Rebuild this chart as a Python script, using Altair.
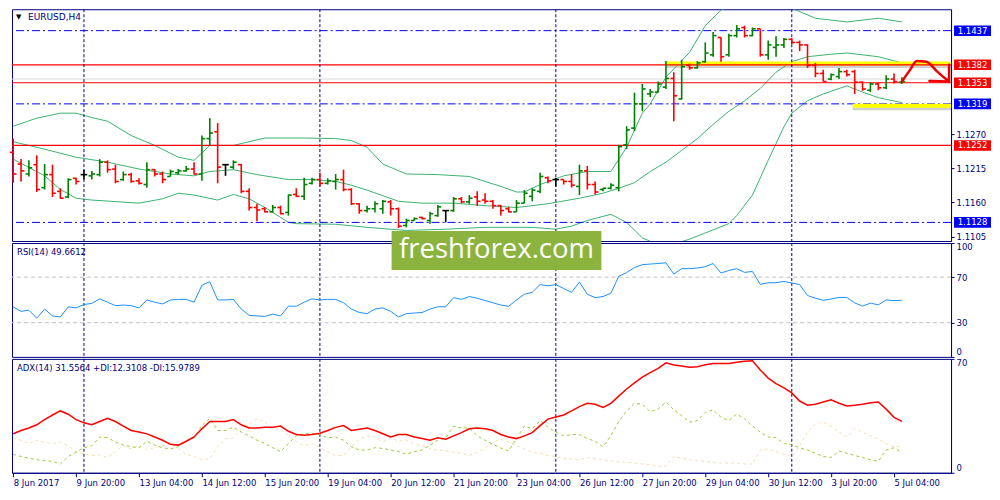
import json
import altair as alt
import pandas as pd

# ---------------- data ----------------
OPEN = [1.1241, 1.1222, 1.1206, 1.1221, 1.1184, 1.1205, 1.1178, 1.1169, 1.1199, 1.1205,
        1.1203, 1.1205, 1.1225, 1.1214, 1.1197, 1.1205, 1.1195, 1.1189, 1.1213, 1.1206,
        1.1202, 1.1208, 1.1211, 1.1214, 1.1206, 1.1263, 1.1274, 1.1221, 1.1217, 1.1221,
        1.1178, 1.1152, 1.1150, 1.1145, 1.1152, 1.1144, 1.1173, 1.1170, 1.1191, 1.1197,
        1.1191, 1.1194, 1.1197, 1.1181, 1.1158, 1.1147, 1.1150, 1.1150, 1.1161, 1.1150,
        1.1123, 1.1131, 1.1136, 1.1131, 1.1139, 1.1147, 1.1147, 1.1166, 1.1161, 1.1169,
        1.1164, 1.1162, 1.1155, 1.1150, 1.1145, 1.1159, 1.1170, 1.1178, 1.1200, 1.1197,
        1.1197, 1.1194, 1.1186, 1.1211, 1.1189, 1.1181, 1.1183, 1.1184, 1.1253, 1.1280,
        1.1319, 1.1335, 1.1338, 1.1346, 1.1360, 1.1327, 1.1381, 1.1377, 1.1387, 1.1398,
        1.1426, 1.1398, 1.1429, 1.1442, 1.1429, 1.1440, 1.1398, 1.1410, 1.1414, 1.1423,
        1.1418, 1.1414, 1.1381, 1.1368, 1.1359, 1.1363, 1.1371, 1.1371, 1.1354, 1.1341,
        1.1351, 1.1345, 1.1359, 1.1354]
HIGH = [1.1263, 1.1230, 1.1228, 1.1236, 1.1222, 1.1221, 1.1183, 1.1199, 1.1200, 1.1213,
        1.1211, 1.1230, 1.1228, 1.1221, 1.1210, 1.1208, 1.1199, 1.1225, 1.1214, 1.1210,
        1.1213, 1.1214, 1.1219, 1.1225, 1.1268, 1.1296, 1.1288, 1.1222, 1.1228, 1.1222,
        1.1183, 1.1158, 1.1153, 1.1156, 1.1155, 1.1173, 1.1183, 1.1200, 1.1200, 1.1208,
        1.1199, 1.1206, 1.1213, 1.1183, 1.1159, 1.1155, 1.1162, 1.1164, 1.1164, 1.1152,
        1.1134, 1.1136, 1.1137, 1.1145, 1.1156, 1.1147, 1.1169, 1.1169, 1.1172, 1.1178,
        1.1175, 1.1164, 1.1156, 1.1153, 1.1164, 1.1180, 1.1183, 1.1208, 1.1202, 1.1200,
        1.1197, 1.1206, 1.1221, 1.1219, 1.1194, 1.1184, 1.1191, 1.1253, 1.1283, 1.1337,
        1.1351, 1.1343, 1.1355, 1.1388, 1.1370, 1.1390, 1.1384, 1.1388, 1.1418, 1.1435,
        1.1426, 1.1432, 1.1446, 1.1445, 1.1442, 1.1440, 1.1421, 1.1428, 1.1425, 1.1425,
        1.1421, 1.1415, 1.1385, 1.1374, 1.1368, 1.1377, 1.1374, 1.1374, 1.1355, 1.1354,
        1.1354, 1.1365, 1.1368, 1.1362]
LOW = [1.1192, 1.1194, 1.1202, 1.1177, 1.1181, 1.1169, 1.1166, 1.1167, 1.1189, 1.1197,
       1.1197, 1.1202, 1.1208, 1.1191, 1.1195, 1.1192, 1.1189, 1.1184, 1.1202, 1.1191,
       1.1202, 1.1205, 1.1210, 1.1205, 1.1195, 1.1252, 1.1191, 1.1203, 1.1214, 1.1175,
       1.1147, 1.1130, 1.1144, 1.1144, 1.1141, 1.1139, 1.1169, 1.1164, 1.1189, 1.1186,
       1.1189, 1.1181, 1.1178, 1.1156, 1.1142, 1.1144, 1.1144, 1.1142, 1.1139, 1.1119,
       1.1120, 1.1131, 1.1133, 1.1126, 1.1137, 1.1128, 1.1145, 1.1159, 1.1158, 1.1155,
       1.1158, 1.1150, 1.1139, 1.1144, 1.1145, 1.1159, 1.1162, 1.1175, 1.1191, 1.1186,
       1.1189, 1.1184, 1.1172, 1.1181, 1.1173, 1.1178, 1.1181, 1.1178, 1.1246, 1.1275,
       1.1307, 1.1330, 1.1337, 1.1343, 1.1291, 1.1326, 1.1374, 1.1376, 1.1385, 1.1395,
       1.1387, 1.1395, 1.1426, 1.1426, 1.1428, 1.1395, 1.1390, 1.1395, 1.1409, 1.1415,
       1.1404, 1.1377, 1.1362, 1.1355, 1.1357, 1.1359, 1.1363, 1.1335, 1.1340, 1.1338,
       1.1341, 1.1343, 1.1352, 1.1351]
CLOSE = [1.1206, 1.1211, 1.1216, 1.1181, 1.1205, 1.1175, 1.1167, 1.1197, 1.1194, 1.1205,
         1.1206, 1.1225, 1.1213, 1.1194, 1.1205, 1.1194, 1.1191, 1.1213, 1.1206, 1.1197,
         1.1210, 1.1211, 1.1214, 1.1206, 1.1263, 1.1272, 1.1217, 1.1221, 1.1225, 1.1178,
         1.1152, 1.1148, 1.1145, 1.1152, 1.1142, 1.1172, 1.1170, 1.1189, 1.1197, 1.1191,
         1.1195, 1.1197, 1.1181, 1.1158, 1.1147, 1.1150, 1.1158, 1.1162, 1.1150, 1.1122,
         1.1131, 1.1134, 1.1134, 1.1142, 1.1153, 1.1147, 1.1166, 1.1161, 1.1167, 1.1162,
         1.1162, 1.1155, 1.1147, 1.1145, 1.1159, 1.1175, 1.1180, 1.1202, 1.1195, 1.1197,
         1.1194, 1.1188, 1.1211, 1.1189, 1.1177, 1.1183, 1.1188, 1.1250, 1.1277, 1.1319,
         1.1343, 1.1338, 1.1351, 1.1360, 1.1332, 1.1379, 1.1377, 1.1385, 1.1401, 1.1429,
         1.1395, 1.1429, 1.1440, 1.1429, 1.1440, 1.1398, 1.1414, 1.1414, 1.1423, 1.1418,
         1.1414, 1.1381, 1.1368, 1.1355, 1.1366, 1.1371, 1.1366, 1.1354, 1.1343, 1.1351,
         1.1345, 1.1359, 1.1355, 1.1355]

BB_UPPER_BAR = [0, 3, 6, 8, 10, 12, 15, 18, 21, 23, 25, 28, 32, 37, 41, 43, 45, 47, 50, 54,
                58, 62, 64, 65, 67, 70, 73, 76, 78, 80, 81, 83, 86, 88, 90, 92, 94, 96, 98, 99,
                102, 106, 110, 113]
BB_UPPER = [1.1283, 1.1296, 1.1304, 1.1304, 1.1297, 1.1291, 1.1268, 1.1252, 1.1233, 1.1228,
            1.1252, 1.1252, 1.1264, 1.1264, 1.1263, 1.1260, 1.1249, 1.1222, 1.1206, 1.1205,
            1.1202, 1.1186, 1.1177, 1.1177, 1.1189, 1.1203, 1.1210, 1.1210, 1.1249, 1.1304,
            1.1319, 1.1362, 1.1402, 1.1445, 1.1470, 1.1482, 1.1489, 1.1486, 1.1479, 1.1473,
            1.1457, 1.1451, 1.1457, 1.1451]
BB_MID_BAR = [0, 4, 8, 12, 16, 20, 23, 25, 28, 31, 35, 38, 41, 43, 45, 49, 52, 56, 60, 64,
              68, 72, 75, 77, 79, 81, 83, 85, 87, 89, 91, 93, 95, 97, 99, 101, 104, 106, 110, 113]
BB_MID = [1.1258, 1.1246, 1.1233, 1.1225, 1.1214, 1.1206, 1.1203, 1.1210, 1.1213, 1.1205,
          1.1197, 1.1197, 1.1194, 1.1188, 1.1180, 1.1162, 1.1159, 1.1159, 1.1155, 1.1152,
          1.1158, 1.1167, 1.1175, 1.1183, 1.1192, 1.1210, 1.1225, 1.1244, 1.1263, 1.1286,
          1.1307, 1.1324, 1.1344, 1.1370, 1.1387, 1.1395, 1.1399, 1.1401, 1.1395, 1.1385]
BB_LOWER_BAR = [0, 4, 6, 8, 10, 16, 19, 21, 23, 26, 28, 30, 32, 35, 36, 41, 45, 50, 55, 60,
                66, 69, 71, 73, 76, 78, 80, 82, 84, 86, 88, 91, 92, 94, 96, 98, 99, 101, 103, 106,
                108, 110, 113]
BB_LOWER = [1.1230, 1.1203, 1.1181, 1.1167, 1.1164, 1.1159, 1.1166, 1.1175, 1.1172, 1.1164,
            1.1173, 1.1166, 1.1152, 1.1128, 1.1126, 1.1125, 1.1120, 1.1115, 1.1117, 1.1120,
            1.1120, 1.1117, 1.1122, 1.1131, 1.1141, 1.1128, 1.1103, 1.1092, 1.1093, 1.1101,
            1.1111, 1.1126, 1.1139, 1.1172, 1.1228, 1.1282, 1.1304, 1.1324, 1.1335, 1.1348,
            1.1338, 1.1329, 1.1321]

RSI = [44, 40, 41, 34, 42, 36, 35, 44, 43, 46,
       47, 51, 48, 45, 45.5, 45, 43, 50, 48, 46.5,
       50, 50.5, 50.5, 48, 63, 66, 50, 50, 50.5, 42,
       36.5, 36, 35.5, 37.5, 36, 44.5, 44.5, 48, 51, 50,
       50.5, 50.5, 47.5, 42, 39, 38, 42, 43, 40, 35,
       38, 38.5, 39, 42, 44, 44, 52, 50.5, 53, 51.5,
       49.5, 47.5, 45.5, 44.5, 50, 55, 56.7, 63.5, 62.4, 63.5,
       60, 56.7, 65.7, 55, 52, 53, 55.9, 70.8, 74, 78.4,
       81, 81.5, 82, 82.6, 72.7, 77.5, 77.5, 78, 79.2, 82,
       73.6, 75.9, 77.5, 74.2, 75, 63.7, 65.1, 65.1, 66.2, 64.9,
       63.5, 53.9, 51.6, 49.7, 50.8, 52.2, 52.2, 47.4, 44.6, 47.2,
       45.7, 50, 49.4, 49.7]
ADX = [24, 26, 27.5, 29.5, 32.7, 35.5, 38, 36, 32.7, 30.7,
       29.5, 31.5, 33.5, 31.5, 28.7, 26, 25, 23.9, 22, 20,
       17.5, 17, 19.4, 22, 27, 31.5, 31.5, 31.5, 32.7, 29.5,
       27.5, 27.5, 28, 28, 28.7, 25.5, 23.5, 23, 23.5, 24.3,
       26, 27.9, 29, 26, 26.7, 27.5, 26, 24, 22, 23.5,
       23.5, 22, 21, 20, 21.5, 20.6, 22.7, 24.7, 27, 27.5,
       27, 26, 23.5, 22, 21, 22.7, 24.7, 29, 33, 34.3,
       35.5, 38, 40.7, 42.7, 42.1, 40.1, 42.7, 47.1, 51.5, 55.2,
       58.8, 61.6, 64.2, 67.6, 66.2, 65.6, 64.8, 65.2, 66.4, 67.2,
       67.2, 67.2, 68, 68.6, 68.8, 63.2, 58.2, 54.8, 52.2, 49.1,
       44.1, 41.5, 42.1, 43.5, 44.8, 42.7, 41.1, 41.5, 42.1, 43.1,
       43.5, 39.1, 34.1, 31.6]
PLUS_DI = [11.4, 10, 9, 8, 7.4, 7, 5.4, 10, 12.6, 15.4,
           16.6, 22, 21.5, 19, 17, 16, 15.4, 19.4, 17, 15.4,
           14.6, 16, 19.4, 21.5, 29, 33.5, 26, 26, 28, 25,
           22.7, 20, 18, 15.4, 13, 18, 22.7, 24, 24, 23.5,
           21.5, 22, 20, 16, 14, 14, 15.4, 15, 14, 13,
           11.4, 13, 14, 17, 20, 21.5, 28.7, 27.5, 27.5, 22.7,
           20, 17.5, 15.2, 13.4, 21, 28.7, 27, 32.1, 28, 25,
           22.7, 23.5, 23.5, 21, 19.4, 16, 22.7, 31.5, 38, 42.7,
           42.1, 37.5, 39.1, 43.5, 38.7, 35.1, 31.1, 32.1, 37.1, 38.7,
           34.1, 32.1, 36.1, 33.1, 28.7, 25, 22, 21.5, 18, 17,
           15.4, 14, 12, 10, 9.4, 13.4, 12, 10.6, 9.4, 8,
           7, 14, 15.4, 12.3]
MINUS_DI = [21.5, 20, 18, 20, 18.7, 18, 18.7, 16.6, 13, 11.4,
            10.6, 11, 9.4, 13, 16.6, 14.6, 17, 14, 15.4, 16.6,
            18, 15, 11.4, 10, 8, 8.6, 16, 21, 21.5, 27,
            29.5, 33.1, 31.1, 27, 26.7, 23, 19, 16.6, 18, 15.4,
            13, 10.6, 10.6, 16, 20.6, 22.7, 22, 19, 21.5, 19.4,
            20, 18, 16.6, 15, 14, 13.4, 12.6, 12, 10.6, 12.6,
            15, 18.7, 20.8, 18.7, 16.6, 14.6, 12.6, 12, 10.6, 10,
            8.6, 8.6, 8, 9.4, 8.6, 8, 7.4, 6.6, 6.6, 6,
            5.4, 5, 4, 4, 10, 9, 8, 7.4, 7, 6.6,
            6, 6, 6, 5.4, 5.4, 14, 14.6, 13, 11.4, 10,
            16.6, 25, 30.1, 31.1, 28.7, 25, 22, 27, 25, 22.7,
            20.6, 18, 16, 16]

TIME_LABELS = ["8 Jun 2017", "9 Jun 20:00", "13 Jun 04:00", "14 Jun 12:00", "15 Jun 20:00",
               "19 Jun 04:00", "20 Jun 12:00", "21 Jun 20:00", "23 Jun 04:00", "26 Jun 12:00",
               "27 Jun 20:00", "29 Jun 04:00", "30 Jun 12:00", "3 Jul 20:00", "5 Jul 04:00"]
TIME_TICK_BARS = [0, 8, 16, 24, 32, 40, 48, 56, 64, 72, 80, 88, 96, 104, 112]
WEEK_SEPARATORS = [9, 39, 69, 99]

BLUE_LEVELS = [1.1437, 1.1319, 1.1128]
RED_LEVELS = [1.1382, 1.1353, 1.1252]
ASK_LEVEL = [1.1359]
ZONE_START = [83, 106.75]
ZONE_END = [119.25, 119.25]
ZONE_PRICE = [1.1384, 1.1316]
PRICE_TICKS = [1.1105, 1.1160, 1.1215, 1.1270]
TAG_PRICES = [1.1437, 1.1382, 1.1353, 1.1319, 1.1252, 1.1128]
TAG_COLORS = ["#0000ff", "#ff0000", "#ff0000", "#0000ff", "#ff0000", "#0000ff"]

ARROW_BAR = [113, 114, 114.9, 116.1, 117.5, 118.6, 119]
ARROW_PRICE = [1.1355, 1.1373, 1.1388, 1.1387, 1.1371, 1.1359, 1.1355]
HEAD_BAR = [116.5, 119, 119]
HEAD_PRICE = [1.1356, 1.1355, 1.1382]

RSI_LEVELS = [30, 70]
RSI_TICKS = [0, 30, 70, 100]
ADX_TICKS = [0, 70]

# ---------------- layout / style ----------------
W = 940
H_MAIN, H_RSI, H_ADX = 232, 114, 114
NAVY = "#000080"
FONT = "DejaVu Sans"
N = len(CLOSE)

X_SCALE = alt.Scale(domain=[-0.15, 119.25], nice=False, zero=False)
P_SCALE = alt.Scale(domain=[1.1098, 1.14715], nice=False, zero=False)
R_SCALE = alt.Scale(domain=[0, 100], nice=False, zero=False)
A_SCALE = alt.Scale(domain=[0, 70], nice=False, zero=False)

PRICE_AXIS = alt.Axis(orient="right", values=PRICE_TICKS, format=".4f", tickSize=3,
                      labelPadding=2, title=None, grid=False)
RSI_AXIS = alt.Axis(orient="right", values=RSI_TICKS, tickSize=3, labelPadding=2,
                    labelFlush=True, title=None, grid=False)
ADX_AXIS = alt.Axis(orient="right", values=ADX_TICKS, tickSize=3, labelPadding=2,
                    labelFlush=True, title=None, grid=False)
label_expr = json.dumps(TIME_LABELS) + "[round(datum.value / 8)]"
TIME_AXIS = alt.Axis(values=TIME_TICK_BARS, labelExpr=label_expr, labelAlign="left",
                     labelFlush=False, labelOverlap=False, tickSize=4, labelPadding=2,
                     title=None, grid=False)


def px(field, axis=None):
    if axis is None:
        return alt.X(field, type="quantitative", scale=X_SCALE, axis=None)
    return alt.X(field, type="quantitative", scale=X_SCALE, axis=axis)


def py(field):
    return alt.Y(field, type="quantitative", scale=P_SCALE, axis=PRICE_AXIS)


def ry(field):
    return alt.Y(field, type="quantitative", scale=R_SCALE, axis=RSI_AXIS)


def ay(field):
    return alt.Y(field, type="quantitative", scale=A_SCALE, axis=ADX_AXIS)


def separators(axis=None):
    return alt.Chart(pd.DataFrame({"bar": WEEK_SEPARATORS})).mark_rule(
        color=NAVY, strokeWidth=1, strokeDash=[3, 2]).encode(x=px("bar", axis))


def label(text, x, y, size=8.5, color=NAVY, font=FONT, align="left"):
    return alt.Chart(pd.DataFrame({"t": [text]})).mark_text(
        align=align, baseline="middle", fontSize=size, font=font, color=color
    ).encode(x=alt.value(x), y=alt.value(y), text="t:N")


# ---------------- main price panel ----------------
bars_df = pd.DataFrame({"bar": list(range(N)), "open": OPEN, "high": HIGH,
                        "low": LOW, "close": CLOSE})
bar_base = alt.Chart(bars_df).transform_calculate(
    dir="datum.close > datum.open ? 'up' : (datum.close < datum.open ? 'down' : 'flat')",
    xl="datum.bar - 0.42", xr="datum.bar + 0.42")
bar_color = alt.Color("dir:N", scale=alt.Scale(domain=["up", "down", "flat"],
                                               range=["#008000", "#ff0000", "#000000"]),
                      legend=None)
wicks = bar_base.mark_rule(strokeWidth=1.6).encode(x=px("bar"), y=py("low"), y2="high:Q", color=bar_color)
opens = bar_base.mark_rule(strokeWidth=1.6).encode(x=px("xl"), x2="bar:Q", y=py("open"), color=bar_color)
closes = bar_base.mark_rule(strokeWidth=1.6).encode(x=px("bar"), x2="xr:Q", y=py("close"), color=bar_color)

bb_df = pd.concat([
    pd.DataFrame({"bar": BB_UPPER_BAR, "price": BB_UPPER, "band": "upper"}),
    pd.DataFrame({"bar": BB_MID_BAR, "price": BB_MID, "band": "mid"}),
    pd.DataFrame({"bar": BB_LOWER_BAR, "price": BB_LOWER, "band": "lower"}),
], ignore_index=True)
bands = alt.Chart(bb_df).mark_line(color="#3cb371", strokeWidth=1, clip=True).encode(
    x=px("bar"), y=py("price"), detail="band:N", order="bar:Q")

ask = alt.Chart(pd.DataFrame({"price": ASK_LEVEL})).mark_rule(color="#d8d8d8", strokeWidth=1).encode(y=py("price"))
blue = alt.Chart(pd.DataFrame({"price": BLUE_LEVELS})).mark_rule(
    color="#0000ff", strokeWidth=1, strokeDash=[8, 3, 2, 3]).encode(y=py("price"))
red = alt.Chart(pd.DataFrame({"price": RED_LEVELS})).mark_rule(color="#ff0000", strokeWidth=1.2).encode(y=py("price"))
zones_df = pd.DataFrame({"x0": ZONE_START, "x1": ZONE_END, "price": ZONE_PRICE})
zone_shadow = alt.Chart(zones_df).transform_calculate(ps="datum.price - 0.0004").mark_rule(
    color="#8a8a8a", strokeWidth=4, opacity=0.4).encode(x=px("x0"), x2="x1:Q", y=py("ps"))
zone = alt.Chart(zones_df).mark_rule(color="#ffff00", strokeWidth=4).encode(
    x=px("x0"), x2="x1:Q", y=py("price"))

arrow = alt.Chart(pd.DataFrame({"bar": ARROW_BAR, "price": ARROW_PRICE,
                                "k": list(range(len(ARROW_BAR)))})).mark_line(
    color="#ee0000", strokeWidth=2.5, strokeCap="round", strokeJoin="round",
    interpolate="monotone", clip=False).encode(x=px("bar"), y=py("price"), order="k:Q")
head = alt.Chart(pd.DataFrame({"bar": HEAD_BAR, "price": HEAD_PRICE,
                               "k": list(range(len(HEAD_BAR)))})).mark_line(
    color="#ee0000", strokeWidth=2.5, strokeCap="round", strokeJoin="round").encode(
    x=px("bar"), y=py("price"), order="k:Q")

tags_df = pd.DataFrame({"price": TAG_PRICES, "color": TAG_COLORS})
tag_boxes = alt.Chart(tags_df).transform_calculate(
    hi="datum.price + 0.00085", lo="datum.price - 0.00085").mark_rect().encode(
    x=alt.value(W + 3), x2=alt.value(W + 40), y=py("hi"), y2="lo:Q",
    color=alt.Color("color:N", scale=None))
tag_text = alt.Chart(tags_df).mark_text(color="white", fontSize=8.5, font=FONT,
                                         align="center", baseline="middle").encode(
    x=alt.value(W + 21.5), y=py("price"), text=alt.Text("price:Q", format=".4f"))

main = alt.layer(
    ask, bands, blue, zone_shadow, zone, red, separators(),
    wicks, opens, closes, arrow, head, tag_boxes, tag_text,
    label("\u25BC", 4, 8, size=7, color="#000000"),
    label("EURUSD,H4", 16, 8, size=9),
).properties(width=W, height=H_MAIN)

# ---------------- RSI panel ----------------
rsi_df = pd.DataFrame({"bar": list(range(N)), "rsi": RSI})
rsi_levels = alt.Chart(pd.DataFrame({"lvl": RSI_LEVELS})).mark_rule(
    color="#c0c0c0", strokeDash=[4, 3]).encode(y=ry("lvl"))
rsi_line = alt.Chart(rsi_df).mark_line(color="#1e90ff", strokeWidth=1).encode(x=px("bar"), y=ry("rsi"))
one = pd.DataFrame({"t": ["freshforex.com"]})
wm_box = alt.Chart(one).mark_rect(color="#8cb33e").encode(
    x=alt.value(380), x2=alt.value(590), y=alt.value(-12), y2=alt.value(27))
wm_text = alt.Chart(one).mark_text(color="white", font="Open Sans", fontSize=27.5,
                                   align="center", baseline="middle").encode(
    x=alt.value(485), y=alt.value(7), text="t:N")
rsi = alt.layer(
    rsi_levels, separators(), rsi_line, wm_box, wm_text,
    label("RSI(14) 49.6612", 5, 9),
).properties(width=W, height=H_RSI)

# ---------------- ADX panel ----------------
adx_df = pd.DataFrame({"bar": list(range(N)), "adx": ADX, "pdi": PLUS_DI, "mdi": MINUS_DI})
mdi_line = alt.Chart(adx_df).mark_line(color="#f5deb3", strokeWidth=1, strokeDash=[3, 3]).encode(
    x=px("bar", TIME_AXIS), y=ay("mdi"))
pdi_line = alt.Chart(adx_df).mark_line(color="#9acd32", strokeWidth=1, strokeDash=[3, 3]).encode(
    x=px("bar", TIME_AXIS), y=ay("pdi"))
adx_line = alt.Chart(adx_df).mark_line(color="#ff0000", strokeWidth=1.5).encode(
    x=px("bar", TIME_AXIS), y=ay("adx"))
adx = alt.layer(
    separators(TIME_AXIS), mdi_line, pdi_line, adx_line,
    label("ADX(14) 31.5564 +DI:12.3108 -DI:15.9789", 5, 9),
).properties(width=W, height=H_ADX)

chart = alt.vconcat(main, rsi, adx, spacing=2, bounds="flush").properties(
    padding=0, background="white"
).configure_view(stroke=NAVY, strokeWidth=1).configure_axis(
    labelFont=FONT, labelFontSize=8.5, labelColor=NAVY, tickColor=NAVY,
    domainColor=NAVY, grid=False)

chart.save("out.html", embed_options={"renderer": "svg", "actions": False})
